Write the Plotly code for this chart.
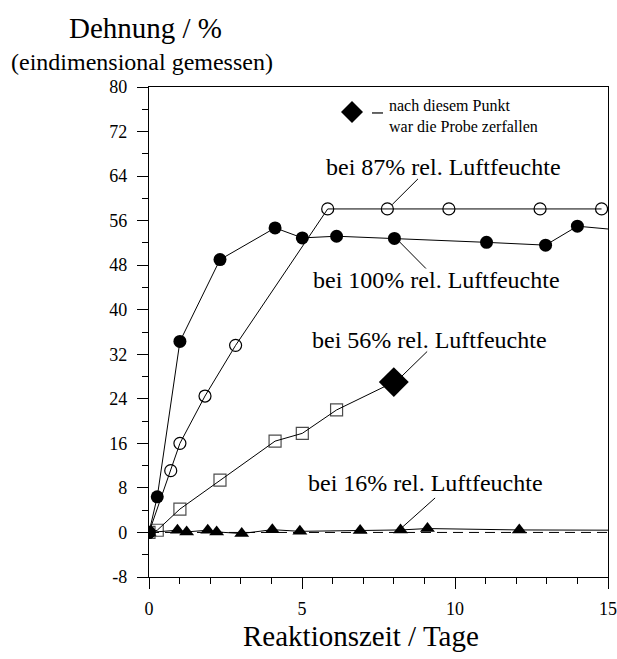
import plotly.graph_objects as go

# ---- data ----
days_100 = [0, 0.27, 1.01, 2.32, 4.12, 5.01, 6.13, 8.02, 11.03, 12.96, 14.0, 15.6]
strain_100 = [0, 6.4, 34.3, 49.0, 54.7, 52.9, 53.2, 52.8, 52.1, 51.6, 55.0, 54.2]

days_87 = [0, 0.71, 1.01, 1.83, 2.83, 5.84, 7.79, 9.80, 12.78, 14.79]
strain_87 = [0, 11.1, 16.0, 24.5, 33.6, 58.1, 58.1, 58.1, 58.1, 58.1]

days_56 = [0, 0.27, 1.01, 2.32, 4.12, 5.01, 6.13, 8.0]
strain_56 = [0, 0.4, 4.2, 9.4, 16.4, 17.8, 22.0, 27.0]

days_16 = [0, 0.93, 1.23, 1.92, 2.21, 3.03, 4.03, 4.93, 6.9, 8.22, 9.1, 12.1, 15.6]
strain_16 = [0, 0.4, 0.1, 0.4, 0.1, -0.2, 0.5, 0.2, 0.35, 0.45, 0.7, 0.45, 0.4]

x_tick_vals = [0, 5, 10, 15]
y_tick_vals = [-8, 0, 8, 16, 24, 32, 40, 48, 56, 64, 72, 80]

FONT = "Liberation Serif, Times New Roman, serif"
BLACK = "black"

fig = go.Figure()

fig.add_trace(go.Scatter(
    x=days_87, y=strain_87, mode="lines+markers",
    line=dict(color=BLACK, width=1),
    marker=dict(symbol="circle-open", size=12, color=BLACK, line=dict(width=1.2)),
    showlegend=False))

fig.add_trace(go.Scatter(
    x=days_100, y=strain_100, mode="lines+markers",
    line=dict(color=BLACK, width=1),
    marker=dict(symbol="circle", size=13, color=BLACK),
    showlegend=False))

size56 = [12] * (len(days_56) - 1) + [0]
fig.add_trace(go.Scatter(
    x=days_56, y=strain_56, mode="lines+markers",
    line=dict(color=BLACK, width=1),
    marker=dict(symbol="square-open", size=size56, color=BLACK, line=dict(width=1.2, color=BLACK)),
    showlegend=False))
# last point of 56% series: sample had disintegrated
fig.add_trace(go.Scatter(
    x=days_56[-1:], y=strain_56[-1:], mode="markers",
    marker=dict(symbol="diamond", size=23, color=BLACK, line=dict(width=0)),
    showlegend=False))

fig.add_trace(go.Scatter(
    x=days_16, y=strain_16, mode="lines+markers",
    line=dict(color=BLACK, width=1),
    marker=dict(symbol="triangle-up", size=13, color=BLACK),
    showlegend=False))

shapes = [
    # dashed zero line
    dict(type="line", xref="x", yref="y", x0=0, x1=15, y0=0, y1=0,
         line=dict(color=BLACK, width=1, dash="10px,6px"), layer="below"),
    # leader lines
    dict(type="line", xref="x", yref="y", x0=8.79, y0=63.5, x1=7.95, y1=58.9,
         line=dict(color=BLACK, width=1)),
    dict(type="line", xref="x", yref="y", x0=8.15, y0=52.4, x1=9.05, y1=47.4,
         line=dict(color=BLACK, width=1)),
    dict(type="line", xref="x", yref="y", x0=9.09, y0=32.5, x1=8.25, y1=28.0,
         line=dict(color=BLACK, width=1)),
    dict(type="line", xref="x", yref="y", x0=9.35, y0=6.2, x1=8.25, y1=0.8,
         line=dict(color=BLACK, width=1)),
    # legend key diamond
    dict(type="path", xref="paper", yref="paper", xsizemode="pixel", ysizemode="pixel",
         xanchor=0.4423, yanchor=0.949,
         path="M 0 11 L 11 0 L 0 -11 L -11 0 Z",
         fillcolor=BLACK, line=dict(color=BLACK, width=0)),
    dict(type="line", xref="paper", yref="paper", x0=0.4858, x1=0.5098, y0=0.947, y1=0.947,
         line=dict(color=BLACK, width=1.2)),
]

annotations = [
    dict(text="Dehnung / %", xref="paper", yref="paper", x=-0.0087, y=1.1204,
         showarrow=False, font=dict(size=29, family=FONT, color=BLACK),
         xanchor="center", yanchor="middle"),
    dict(text="(eindimensional gemessen)", xref="paper", yref="paper", x=-0.0153, y=1.051,
         showarrow=False, font=dict(size=24, family=FONT, color=BLACK),
         xanchor="center", yanchor="middle"),
    dict(text="Reaktionszeit / Tage", xref="paper", yref="paper", x=0.462, y=-0.121,
         showarrow=False, font=dict(size=29, family=FONT, color=BLACK),
         xanchor="center", yanchor="middle"),
    dict(text="nach diesem Punkt<br>war die Probe zerfallen", xref="paper", yref="paper",
         x=0.5185, y=0.941, showarrow=False, align="left",
         font=dict(size=16, family=FONT, color=BLACK),
         xanchor="left", yanchor="middle"),
    dict(text="bei 87% rel. Luftfeuchte", xref="x", yref="y", x=9.64, y=65.7,
         showarrow=False, font=dict(size=24, family=FONT, color=BLACK)),
    dict(text="bei 100% rel. Luftfeuchte", xref="x", yref="y", x=9.38, y=45.3,
         showarrow=False, font=dict(size=24, family=FONT, color=BLACK)),
    dict(text="bei 56% rel. Luftfeuchte", xref="x", yref="y", x=9.18, y=34.5,
         showarrow=False, font=dict(size=24, family=FONT, color=BLACK)),
    dict(text="bei 16% rel. Luftfeuchte", xref="x", yref="y", x=9.05, y=8.8,
         showarrow=False, font=dict(size=24, family=FONT, color=BLACK)),
]

fig.update_layout(
    width=617, height=659,
    margin=dict(l=149, r=9, t=87, b=82, autoexpand=False),
    paper_bgcolor="white", plot_bgcolor="white",
    font=dict(family=FONT, color=BLACK, size=18),
    shapes=shapes, annotations=annotations,
    showlegend=False,
)

fig.update_xaxes(
    range=[0, 15], tickvals=x_tick_vals, ticktext=[str(v) for v in x_tick_vals],
    automargin=False, ticklabeloverflow="allow",
    showgrid=False, zeroline=False, showline=True, linecolor=BLACK, linewidth=1.2,
    mirror=True, ticks="outside", ticklen=11, tickwidth=1, tickcolor=BLACK,
    tickfont=dict(size=18, family=FONT, color=BLACK), ticklabelstandoff=4,
    minor=dict(dtick=1, tick0=0, ticks="outside", ticklen=6, tickwidth=1, tickcolor=BLACK, showgrid=False),
)
fig.update_yaxes(
    range=[-8, 80], tickvals=y_tick_vals, ticktext=[str(v) for v in y_tick_vals],
    automargin=False, ticklabeloverflow="allow",
    showgrid=False, zeroline=False, showline=True, linecolor=BLACK, linewidth=1.2,
    mirror=True, ticks="outside", ticklen=11, tickwidth=1, tickcolor=BLACK,
    tickfont=dict(size=18, family=FONT, color=BLACK), ticklabelstandoff=6,
    minor=dict(dtick=4, tick0=0, ticks="outside", ticklen=6, tickwidth=1, tickcolor=BLACK, showgrid=False),
)

fig.write_html(
    "out.html",
    config={"displayModeBar": False},
    post_script="document.body.style.margin='0';document.body.style.overflow='hidden';",
)
